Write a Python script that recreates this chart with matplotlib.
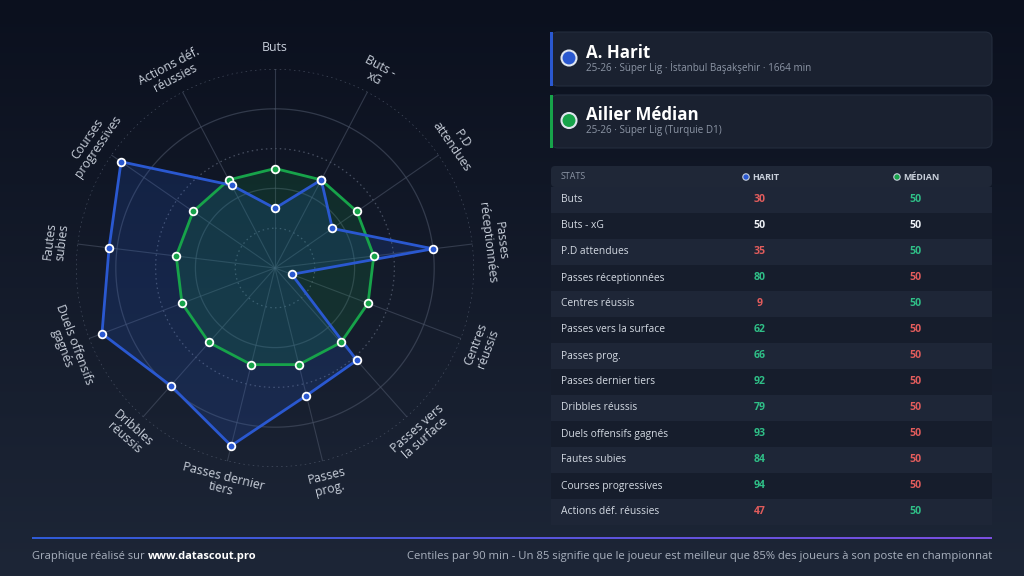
import numpy as np
import matplotlib.pyplot as plt
from matplotlib.patches import FancyBboxPatch, Rectangle, Circle

plt.rcParams['font.family'] = ['Open Sans', 'DejaVu Sans']

# ---- data ----
stats = ['Buts', 'Buts - xG', 'P.D attendues', 'Passes réceptionnées', 'Centres réussis',
         'Passes vers la surface', 'Passes prog.', 'Passes dernier tiers', 'Dribbles réussis',
         'Duels offensifs gagnés', 'Fautes subies', 'Courses progressives', 'Actions déf. réussies']
radar_labels = ['Buts', 'Buts -\nxG', 'P.D\nattendues', 'Passes\nréceptionnées', 'Centres\nréussis',
                'Passes vers\nla surface', 'Passes\nprog.', 'Passes dernier\ntiers', 'Dribbles\nréussis',
                'Duels offensifs\ngagnés', 'Fautes\nsubies', 'Courses\nprogressives', 'Actions déf.\nréussies']
harit = [30, 50, 35, 80, 9, 62, 66, 92, 79, 93, 84, 94, 47]
median = [50, 50, 50, 50, 50, 50, 50, 50, 50, 50, 50, 50, 50]

player_name = 'A. Harit'
player_sub = '25-26 · Süper Lig · İstanbul Başakşehir · 1664 min'
median_name = 'Ailier Médian'
median_sub = '25-26 · Süper Lig (Turquie D1)'

# ---- colours ----
BLUE = '#2a58d0'
GREEN = '#17a34a'
VAL_GREEN = '#2fbf87'
VAL_RED = '#e25c5c'
WHITE = '#eef1f6'
LABEL = '#c8cfda'
GREY = '#8c95a5'

W, H = 1024, 576
fig = plt.figure(figsize=(W / 100, H / 100), dpi=100)
ax = fig.add_axes([0, 0, 1, 1])
ax.set_xlim(0, W)
ax.set_ylim(H, 0)
ax.axis('off')

# background gradient
grad = np.linspace(0, 1, 256).reshape(-1, 1)
top = np.array([0x0b, 0x10, 0x1e]) / 255
bot = np.array([0x1d, 0x26, 0x37]) / 255
img = top + (bot - top) * grad[..., None]
img = np.repeat(img, 2, axis=1)
ax.imshow(img, extent=[0, W, H, 0], aspect='auto', zorder=0)

# ---- radar ----
cx, cy, R = 275, 268, 199
pax = fig.add_axes([(cx - R) / W, (H - cy - R) / H, 2 * R / W, 2 * R / H], projection='polar')
pax.set_theta_offset(np.pi / 2)
pax.set_theta_direction(-1)
pax.set_ylim(0, 100)
pax.set_axis_off()
pax.patch.set_alpha(0)

n = len(stats)
angles = np.arange(n) * 2 * np.pi / n
circ = np.linspace(0, 2 * np.pi, 400)
for r in [20, 40, 60, 80, 100]:
    if r in (40, 80):
        pax.plot(circ, np.full_like(circ, r), color='#4a5366', lw=0.9, alpha=0.6, zorder=1)
    else:
        pax.plot(circ, np.full_like(circ, r), color='#5a6376', lw=0.9, ls=(0, (1.2, 2.6)),
                 alpha=0.75, zorder=1)
for a in angles:
    pax.plot([a, a], [0, 100], color='#4a5366', lw=0.8, alpha=0.6, zorder=1)

ang_c = np.append(angles, angles[0])
h_c = np.append(harit, harit[0])
m_c = np.append(median, median[0])
pax.fill(ang_c, h_c, color='#2563eb', alpha=0.16, zorder=2)
pax.fill(ang_c, m_c, color='#16a34a', alpha=0.16, zorder=2)
pax.plot(ang_c, m_c, color=GREEN, lw=2, zorder=3)
pax.plot(ang_c, h_c, color=BLUE, lw=2, zorder=4)
pax.plot(angles, median, 'o', ms=5.5, mfc=GREEN, mec='white', mew=1.3, zorder=5)
pax.plot(angles, harit, 'o', ms=5.5, mfc=BLUE, mec='white', mew=1.3, zorder=6)

for a, lab in zip(angles, radar_labels):
    deg = np.degrees(a)
    rot = -deg
    if 90 < deg < 270:
        rot += 180
    pax.text(a, 111, lab, rotation=rot, rotation_mode='anchor', ha='center', va='center',
             fontsize=8.8, color=LABEL, linespacing=1.0, clip_on=False)

# ---- cards ----
def card(y0, y1, color, title, sub):
    ax.add_patch(FancyBboxPatch((551, y0), 441, y1 - y0, boxstyle='round,pad=0,rounding_size=7',
                                fc='#1a2130', ec='#242d3d', lw=0.8, zorder=2))
    ax.add_patch(Rectangle((550, y0), 3, y1 - y0, fc=color, ec='none', zorder=3))
    yc = (y0 + y1) / 2
    ax.add_patch(Circle((569, yc - 1), 7.5, fc=color, ec='#dfe5ee', lw=1.5, zorder=3))
    ax.text(586, yc - 6, title, fontsize=12.2, fontweight='bold', color='white', va='center', zorder=4)
    ax.text(586, yc + 9, sub, fontsize=7.1, color=GREY, va='center', zorder=4)

card(32, 86, BLUE, player_name, player_sub)
card(95, 148, GREEN, median_name, median_sub)

# ---- table ----
x0, x1 = 551, 992
ax.add_patch(FancyBboxPatch((x0, 166), x1 - x0, 21, boxstyle='round,pad=0,rounding_size=4',
                            fc='#1f2737', ec='none', zorder=2))
ax.text(561, 176.5, 'STATS', fontsize=6.4, color=GREY, va='center', zorder=4)
ax.add_patch(Circle((746, 177), 3.2, fc=BLUE, ec='#c8d0dc', lw=0.8, zorder=4))
ax.text(752, 177, 'HARIT', fontsize=6.5, fontweight='bold', color='#c8cfda', va='center', zorder=4)
ax.add_patch(Circle((897, 177), 3.2, fc=GREEN, ec='#c8d0dc', lw=0.8, zorder=4))
ax.text(903, 177, 'MÉDIAN', fontsize=6.5, fontweight='bold', color='#c8cfda', va='center', zorder=4)

row_h = 26
for i, (s, hv, mv) in enumerate(zip(stats, harit, median)):
    ytop = 187 + i * row_h
    fc = '#1e2637' if i % 2 == 0 else '#161d2c'
    ax.add_patch(Rectangle((x0, ytop), x1 - x0, row_h, fc=fc, ec='none', zorder=2))
    yc = ytop + row_h / 2
    if hv > mv:
        hc, mc = VAL_GREEN, VAL_RED
    elif hv < mv:
        hc, mc = VAL_RED, VAL_GREEN
    else:
        hc, mc = WHITE, WHITE
    ax.text(561, yc, s, fontsize=7.4, color='#d3d9e2', va='center', zorder=4)
    ax.text(760, yc, str(hv), fontsize=7.6, fontweight='bold', color=hc, va='center', ha='center', zorder=4)
    ax.text(915, yc, str(mv), fontsize=7.6, fontweight='bold', color=mc, va='center', ha='center', zorder=4)

# ---- footer ----
line = np.linspace(0, 1, 256).reshape(1, -1)
c0 = np.array([0x2f, 0x5b, 0xd6]) / 255
c1 = np.array([0x7b, 0x4f, 0xe0]) / 255
limg = c0 + (c1 - c0) * line[..., None]
ax.imshow(limg, extent=[32, 992, 539, 537], aspect='auto', zorder=3)
ax.set_xlim(0, W)
ax.set_ylim(H, 0)

t1 = ax.text(32, 556, 'Graphique réalisé sur ', fontsize=8.0, color='#a9b1be', va='center', zorder=4)
ax.annotate('www.datascout.pro', xy=(1, 0.5), xycoords=t1, va='center', ha='left',
            fontsize=8.0, fontweight='bold', color='white', zorder=4)
ax.text(992, 556, 'Centiles par 90 min - Un 85 signifie que le joueur est meilleur que 85% des joueurs à son poste en championnat',
        fontsize=8.1, color='#a9b1be', va='center', ha='right', zorder=4)

fig.savefig('out.png', dpi=100)
